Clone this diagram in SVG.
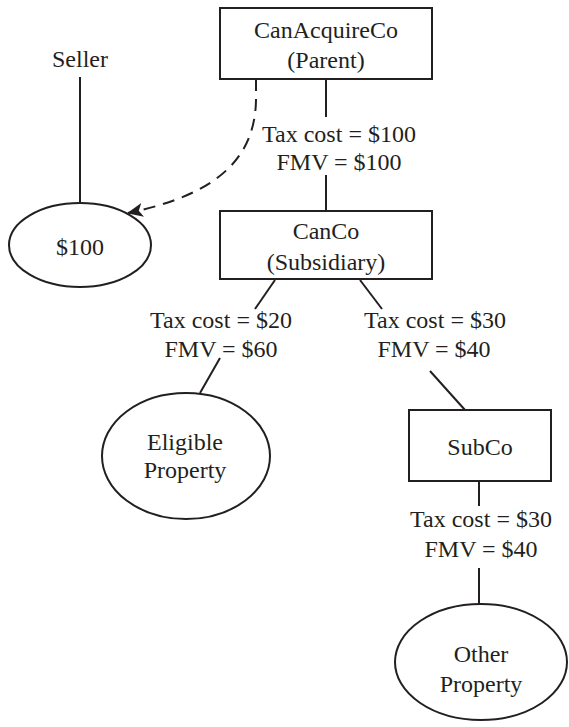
<svg xmlns="http://www.w3.org/2000/svg" width="569" height="727" viewBox="0 0 569 727">
<defs>
<style>
text{font-family:"Liberation Serif","Times New Roman",serif;font-size:24px;fill:#231f20;text-anchor:middle}
.s{fill:#fff;stroke:#231f20;stroke-width:2}
.c{fill:none;stroke:#231f20;stroke-width:2}
.d{fill:none;stroke:#231f20;stroke-width:2;stroke-dasharray:12,8}
</style>
<marker id="ah" viewBox="0 0 16 14" refX="15" refY="7" markerWidth="16" markerHeight="14" markerUnits="userSpaceOnUse" orient="auto">
<path d="M0,0 L16,7 L0,14 L4,7 Z" fill="#231f20"/>
</marker>
</defs>
<rect width="569" height="727" fill="#fff"/>
<g id="connectors">
<line class="c" x1="80" y1="77" x2="80" y2="203"/>
<line class="c" x1="326" y1="79" x2="326" y2="117"/>
<line class="c" x1="326" y1="175" x2="326" y2="211"/>
<path class="d" d="M256,79 L256,100 C255,160 215,195 128,213" marker-end="url(#ah)"/>
<line class="c" x1="275" y1="280" x2="255" y2="309"/>
<line class="c" x1="360" y1="280" x2="382" y2="309"/>
<line class="c" x1="220" y1="358" x2="200" y2="393"/>
<line class="c" x1="430" y1="371" x2="465" y2="410"/>
<line class="c" x1="479" y1="481" x2="479" y2="506"/>
<line class="c" x1="479" y1="568" x2="479" y2="604"/>
</g>
<g id="seller"><text x="80" y="67">Seller</text></g>
<g id="canacquireco">
<rect class="s" x="220" y="8" width="212" height="71"/>
<text x="326" y="38">CanAcquireCo</text>
<text x="326" y="68">(Parent)</text>
</g>
<g id="cash">
<ellipse class="s" cx="80" cy="245" rx="71" ry="42"/>
<text x="80" y="255">$100</text>
</g>
<g id="label-parent"><text x="339" y="142">Tax cost = $100</text><text x="339" y="170">FMV = $100</text></g>
<g id="canco">
<rect class="s" x="220" y="211" width="212" height="68"/>
<text x="326" y="239">CanCo</text>
<text x="326" y="270">(Subsidiary)</text>
</g>
<g id="label-eligible"><text x="221" y="328">Tax cost = $20</text><text x="221" y="357">FMV = $60</text></g>
<g id="label-subco"><text x="435" y="328">Tax cost = $30</text><text x="434" y="357">FMV = $40</text></g>
<g id="eligible">
<ellipse class="s" cx="186" cy="456" rx="84" ry="63"/>
<text x="185" y="450">Eligible</text>
<text x="185" y="478">Property</text>
</g>
<g id="subco">
<rect class="s" x="409" y="410" width="142" height="71"/>
<text x="480" y="455">SubCo</text>
</g>
<g id="label-other"><text x="481" y="527">Tax cost = $30</text><text x="481" y="557">FMV = $40</text></g>
<g id="other">
<ellipse class="s" cx="481" cy="662" rx="86" ry="58"/>
<text x="481" y="662">Other</text>
<text x="481" y="692">Property</text>
</g>
</svg>
